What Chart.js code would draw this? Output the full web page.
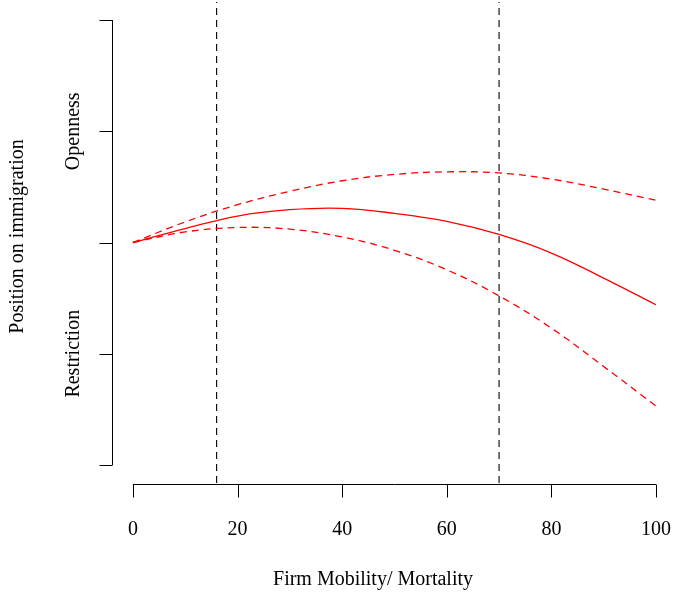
<!DOCTYPE html>
<html>
<head>
<meta charset="utf-8">
<script src="https://cdn.jsdelivr.net/npm/chart.js@4.4.0/dist/chart.umd.min.js"></script>
<style>
  html, body { margin: 0; padding: 0; background: #fff; }
</style>
</head>
<body>
<canvas id="chart" width="673" height="593"></canvas>
<script>
// values
const xValues = [0, 10, 20, 30, 40, 50, 60, 70, 80, 90, 100];
const estimate = [0, 0.125, 0.238, 0.295, 0.307, 0.262, 0.19, 0.072, -0.095, -0.32, -0.56];
const upperBound = [0, 0.185, 0.34, 0.46, 0.555, 0.612, 0.635, 0.625, 0.57, 0.48, 0.38];
const lowerBound = [0, 0.095, 0.135, 0.12, 0.05, -0.07, -0.245, -0.48, -0.77, -1.115, -1.47];
const cutoffs = [16, 70];
const xTicks = [0, 20, 40, 60, 80, 100];
const yTicks = [-2, -1, 0, 1, 2];
const yTickLabels = { '1': 'Openness', '-1': 'Restriction' };
const xTitle = 'Firm Mobility/ Mortality';
const yTitle = 'Position on immigration';

const yMin = -2.162, yMax = 2.162;
const serif = 'Liberation Serif, Times New Roman, serif';

function toPoints(ys) {
    return xValues.map((x, i) => ({ x: x, y: ys[i] }));
}

// R-style detached axes, drawn with the chart's own scales
const baseAxes = {
    id: 'baseAxes',
    afterDraw(chart) {
        const ctx = chart.ctx;
        const xs = chart.scales.x, ys = chart.scales.y;
        const area = chart.chartArea;
        ctx.save();
        ctx.strokeStyle = '#000';
        ctx.lineWidth = 1;

        // x axis
        const axY = area.bottom + 1.5;
        ctx.beginPath();
        ctx.moveTo(xs.getPixelForValue(xTicks[0]), axY);
        ctx.lineTo(xs.getPixelForValue(xTicks[xTicks.length - 1]), axY);
        xTicks.forEach(v => {
            const px = Math.round(xs.getPixelForValue(v)) + 0.5;
            ctx.moveTo(px, axY);
            ctx.lineTo(px, axY + 13);
        });
        ctx.stroke();

        // y axis
        const axX = area.left + 0.5;
        ctx.beginPath();
        ctx.moveTo(axX, ys.getPixelForValue(yTicks[0]));
        ctx.lineTo(axX, ys.getPixelForValue(yTicks[yTicks.length - 1]));
        yTicks.forEach(v => {
            const py = Math.round(ys.getPixelForValue(v)) + 0.5;
            ctx.moveTo(axX, py);
            ctx.lineTo(axX - 13, py);
        });
        ctx.stroke();

        ctx.fillStyle = '#000';
        ctx.font = '20px ' + serif;
        ctx.textAlign = 'center';
        ctx.textBaseline = 'middle';

        // rotated y labels
        yTicks.forEach(v => {
            const label = yTickLabels[String(v)];
            if (!label) return;
            ctx.save();
            ctx.translate(area.left - 38, ys.getPixelForValue(v));
            ctx.rotate(-Math.PI / 2);
            ctx.fillText(label, 0, 0);
            ctx.restore();
        });

        ctx.save();
        ctx.translate(18, (area.top + area.bottom) / 2 - 6);
        ctx.rotate(-Math.PI / 2);
        ctx.fillText(yTitle, 0, 0);
        ctx.restore();

        // x title, sits a little left of the axis centre as in the original
        ctx.fillText(xTitle, xs.getPixelForValue(45.9), 580);

        ctx.restore();
    }
};

const ctx = document.getElementById('chart').getContext('2d');
const chart = new Chart(ctx, {
    type: 'line',
    data: {
        datasets: [
            {
                label: 'Estimate',
                data: toPoints(estimate),
                borderColor: '#ff0000',
                borderWidth: 1.3,
                pointRadius: 0,
                tension: 0.4
            },
            {
                label: 'Upper',
                data: toPoints(upperBound),
                borderColor: '#ff0000',
                borderWidth: 1.3,
                borderDash: [7, 5],
                pointRadius: 0,
                tension: 0.4
            },
            {
                label: 'Lower',
                data: toPoints(lowerBound),
                borderColor: '#ff0000',
                borderWidth: 1.3,
                borderDash: [7, 5],
                pointRadius: 0,
                tension: 0.4
            },
            ...cutoffs.map(c => ({
                label: 'Cutoff ' + c,
                data: [{ x: c, y: yMin }, { x: c, y: yMax }],
                borderColor: '#000',
                borderWidth: 1.1,
                borderDash: [7, 5],
                pointRadius: 0,
                tension: 0
            }))
        ]
    },
    options: {
        responsive: false,
        animation: false,
        layout: { autoPadding: false, padding: { left: 112, right: 0, top: 2, bottom: 0 } },
        plugins: {
            legend: { display: false },
            tooltip: { enabled: false }
        },
        scales: {
            x: {
                type: 'linear',
                min: -4,
                max: 103.25,
                grid: { display: false, drawTicks: false },
                border: { display: false },
                afterBuildTicks: s => { s.ticks = xTicks.map(v => ({ value: v })); },
                afterFit: s => { s.height = 110; },
                ticks: {
                    autoSkip: false,
                    maxRotation: 0,
                    padding: 0,
                    color: '#000',
                    // tall line box pushes the labels down without widening the side padding
                    font: { family: serif, size: 20, lineHeight: 4.7 }
                }
            },
            y: {
                type: 'linear',
                display: false,
                min: yMin,
                max: yMax
            }
        }
    },
    plugins: [baseAxes]
});
</script>
</body>
</html>
